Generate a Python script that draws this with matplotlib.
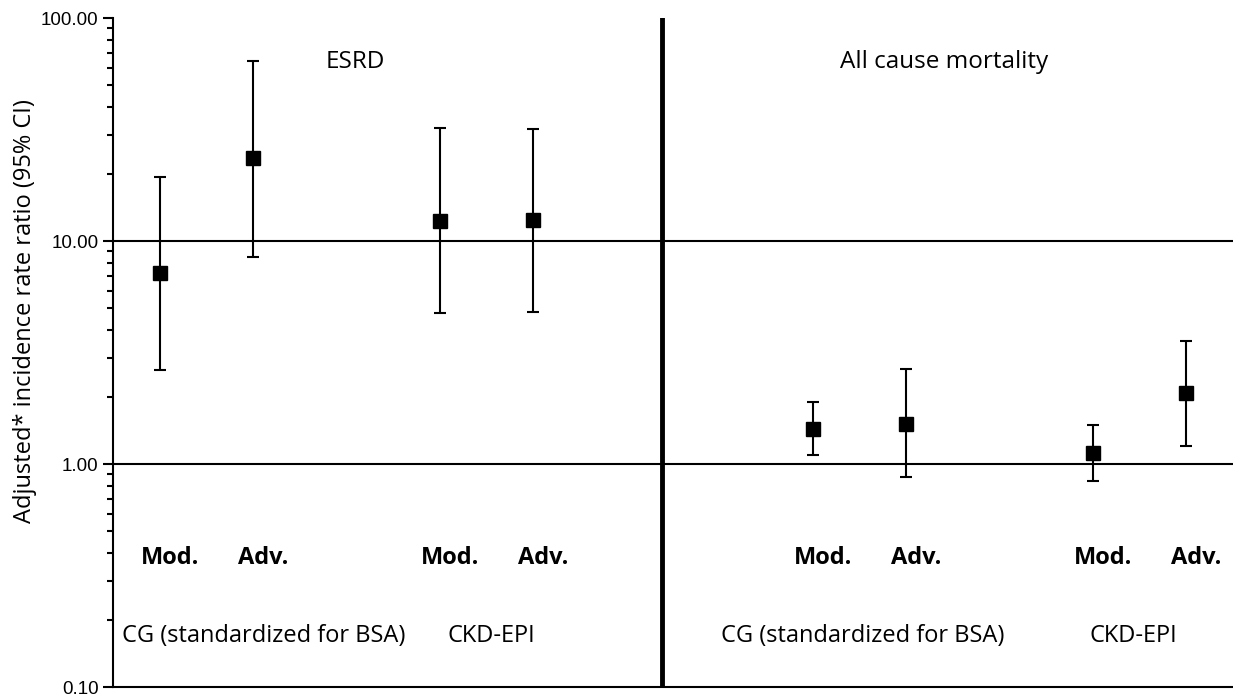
import numpy as np
import matplotlib
matplotlib.use("Agg")
import matplotlib.pyplot as plt
from matplotlib.ticker import FormatStrFormatter, LogLocator, NullFormatter

# ESRD (left panel) and all cause mortality (right panel)
groups = ["Mod.", "Adv.", "Mod.", "Adv."]
esrd_irr = [7.19, 23.6, 12.3, 12.4]
esrd_lo = [2.64, 8.48, 4.75, 4.80]
esrd_hi = [19.4, 64.1, 32.1, 31.8]
mort_irr = [1.44, 1.51, 1.12, 2.08]
mort_lo = [1.10, 0.875, 0.84, 1.20]
mort_hi = [1.90, 2.67, 1.50, 3.56]
esrd_x = [0.5, 1.5, 3.5, 4.5]
mort_x = [7.5, 8.5, 10.5, 11.5]
method_labels = ["CG (standardized for BSA)", "CKD-EPI"]

fig = plt.figure(figsize=(12.33, 6.99), dpi=100)
ax = fig.add_axes([0.0917, 0.017, 0.9083, 0.957])

def panel(xs, irr, lo, hi):
    irr = np.array(irr)
    err = [irr - np.array(lo), np.array(hi) - irr]
    ax.errorbar(xs, irr, yerr=err, fmt='s', color='black', ms=10,
                elinewidth=1.5, capsize=4, capthick=1.5, zorder=3)

panel(esrd_x, esrd_irr, esrd_lo, esrd_hi)
panel(mort_x, mort_irr, mort_lo, mort_hi)

ax.set_yscale('log')
ax.set_ylim(0.1, 100)
ax.set_xlim(0, 12)
ax.axhline(10, color='black', lw=1.5, zorder=1)
ax.axhline(1, color='black', lw=1.5, zorder=1)
ax.axvline(5.88, color='black', lw=3.5, zorder=2)

ax.yaxis.set_major_locator(LogLocator(base=10))
ax.yaxis.set_major_formatter(FormatStrFormatter('%.2f'))
ax.yaxis.set_minor_locator(LogLocator(base=10, subs=np.arange(2, 10)))
ax.yaxis.set_minor_formatter(NullFormatter())
ax.tick_params(axis='y', which='major', length=7, width=1.5, labelsize=13.5,
               direction='out')
ax.tick_params(axis='y', which='minor', length=4, width=1.5, direction='out')
for lbl in ax.get_yticklabels():
    lbl.set_family('Liberation Sans')
ax.set_xticks([])
ax.spines['top'].set_visible(False)
ax.spines['right'].set_visible(False)
ax.spines['left'].set_linewidth(1.5)
ax.spines['bottom'].set_linewidth(1.5)

fig.text(25 / 1233, 1 - 311 / 699, "Adjusted* incidence rate ratio (95% CI)",
         fontsize=17, family='Open Sans', rotation=90, ha='center', va='center')

ax.text(2.6, 63.5, "ESRD", fontsize=17.5, family='Open Sans', ha='center', va='center')
ax.text(8.9, 63.5, "All cause mortality", fontsize=17.5, family='Open Sans',
        ha='center', va='center')

for xs in (esrd_x, mort_x):
    for x, g in zip(xs, groups):
        ax.text(x + 0.11, 0.379, g, fontsize=17, fontweight='bold', family='Open Sans',
                ha='center', va='center')

for xc, name in zip([1.61, 4.05, 8.03, 10.93], method_labels * 2):
    ax.text(xc, 0.169, name, fontsize=17, family='Open Sans', ha='center', va='center')

fig.savefig("out.png", dpi=100)
